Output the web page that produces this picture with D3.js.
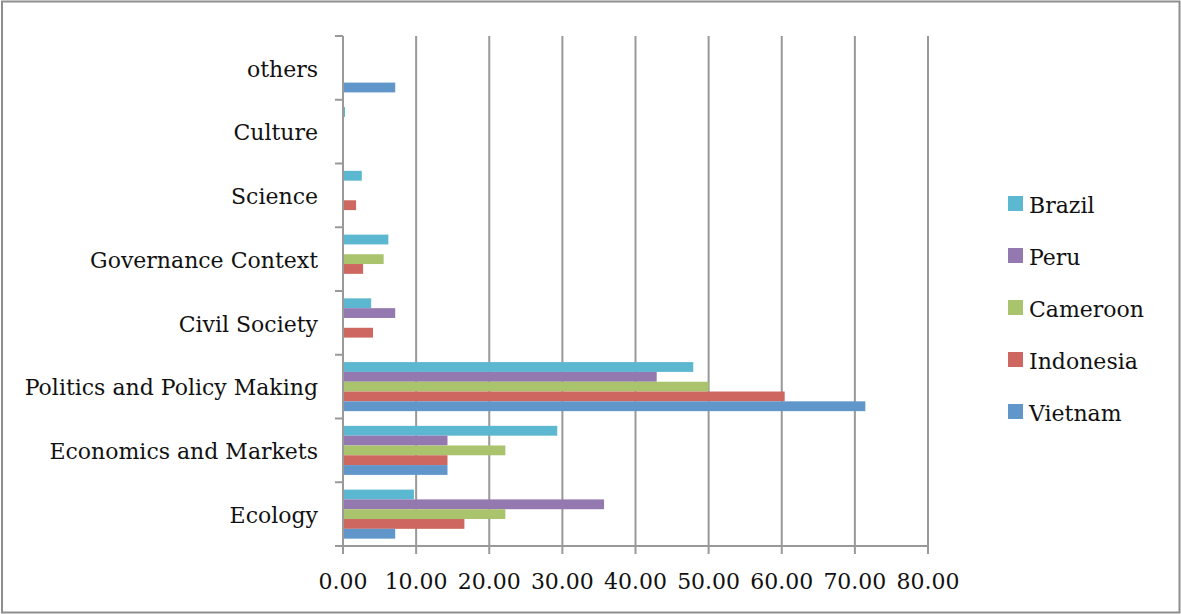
<!DOCTYPE html>
<html>
<head>
<meta charset="utf-8">
<script src="https://cdn.jsdelivr.net/npm/d3@7"></script>
<style>
  body { margin: 0; background: #fff; }
  text { font-family: "DejaVu Serif", "Liberation Serif", serif; fill: #111; }
</style>
</head>
<body>
<div id="chart"></div>
<script>
var width = 1181;
var height = 614;

// categories top to bottom
var categories = ["others", "Culture", "Science", "Governance Context", "Civil Society",
                  "Politics and Policy Making", "Economics and Markets", "Ecology"];
// series top to bottom inside a group
var series = ["Brazil", "Peru", "Cameroon", "Indonesia", "Vietnam"];
var colors = ["#5bb8d0", "#9479b0", "#aac46d", "#cd6760", "#6196ca"];

// values per series, same order as categories
var brazil    = [0, 0.28, 2.57, 6.2, 3.85, 47.9, 29.3, 9.7];
var peru      = [0, 0, 0, 0, 7.14, 42.9, 14.29, 35.7];
var cameroon  = [0, 0, 0, 5.56, 0, 50.0, 22.2, 22.2];
var indonesia = [0, 0, 1.79, 2.75, 4.1, 60.4, 14.29, 16.6];
var vietnam   = [7.14, 0, 0, 0, 0, 71.43, 14.29, 7.14];
var xTicks = [0, 10, 20, 30, 40, 50, 60, 70, 80];

var values = [brazil, peru, cameroon, indonesia, vietnam];

var margin = {left: 343, right: 253, top: 36, bottom: 68};
var fontSize = 22;

var svg = d3.select('#chart').append('svg')
    .attr('width', width).attr('height', height);

// outer border
svg.append('rect')
    .attr('x', 2).attr('y', 1.5)
    .attr('width', width - 3.5).attr('height', height - 3)
    .attr('fill', 'none').attr('stroke', '#8e8e8e').attr('stroke-width', 2);

var x = d3.scaleLinear()
    .domain([0, 80])
    .range([margin.left, width - margin.right]);

var y = d3.scaleBand()
    .domain(categories)
    .range([margin.top, height - margin.bottom])
    .paddingInner(0.2308)
    .paddingOuter(0.1154);

var ySub = d3.scaleBand()
    .domain(series)
    .range([0, y.bandwidth()]);

var step = y.step();
var yTop = margin.top, yBot = height - margin.bottom;

// vertical grid lines
svg.append('g').selectAll('line')
    .data(xTicks.slice(1))
    .enter().append('line')
    .attr('x1', function(d){ return x(d); })
    .attr('x2', function(d){ return x(d); })
    .attr('y1', yTop).attr('y2', yBot)
    .attr('stroke', '#999').attr('stroke-width', 2);

// bars
var rows = [];
series.forEach(function(s, i){
  categories.forEach(function(c, j){
    rows.push({s: s, c: c, v: values[i][j], col: colors[i]});
  });
});

svg.append('g').selectAll('rect')
    .data(rows.filter(function(d){ return d.v > 0; }))
    .enter().append('rect')
    .attr('x', x(0))
    .attr('y', function(d){ return y(d.c) + ySub(d.s); })
    .attr('width', function(d){ return x(d.v) - x(0); })
    .attr('height', ySub.bandwidth())
    .attr('fill', function(d){ return d.col; });

// y axis line + ticks
var yAxis = svg.append('g');
yAxis.append('line')
    .attr('x1', x(0)).attr('x2', x(0))
    .attr('y1', yTop).attr('y2', yBot)
    .attr('stroke', '#999').attr('stroke-width', 2);
yAxis.selectAll('line.tk')
    .data(d3.range(categories.length + 1))
    .enter().append('line').attr('class', 'tk')
    .attr('x1', x(0) - 8).attr('x2', x(0))
    .attr('y1', function(d){ return yTop + d * step; })
    .attr('y2', function(d){ return yTop + d * step; })
    .attr('stroke', '#999').attr('stroke-width', 2);
yAxis.selectAll('text')
    .data(categories)
    .enter().append('text')
    .attr('x', 318)
    .attr('y', function(d){ return y(d) + y.bandwidth() / 2 + 1; })
    .attr('dy', '0.35em')
    .attr('text-anchor', 'end')
    .attr('font-size', fontSize)
    .text(function(d){ return d; });

// x axis
var xAxis = svg.append('g');
xAxis.append('line')
    .attr('x1', x(0) - 8).attr('x2', x(80))
    .attr('y1', yBot).attr('y2', yBot)
    .attr('stroke', '#999').attr('stroke-width', 2);
xAxis.selectAll('line.tk')
    .data(xTicks)
    .enter().append('line').attr('class', 'tk')
    .attr('x1', function(d){ return x(d); })
    .attr('x2', function(d){ return x(d); })
    .attr('y1', yBot).attr('y2', yBot + 8)
    .attr('stroke', '#999').attr('stroke-width', 2);
xAxis.selectAll('text')
    .data(xTicks)
    .enter().append('text')
    .attr('x', function(d){ return x(d); })
    .attr('y', 581)
    .attr('dy', '0.35em')
    .attr('text-anchor', 'middle')
    .attr('font-size', fontSize)
    .text(function(d){ return d3.format('.2f')(d); });

// legend
var legend = svg.append('g').selectAll('g')
    .data(series)
    .enter().append('g')
    .attr('transform', function(d, i){ return 'translate(1008,' + (205 + i * 52) + ')'; });
legend.append('rect')
    .attr('x', 0).attr('y', -9)
    .attr('width', 15).attr('height', 15)
    .attr('fill', function(d, i){ return colors[i]; });
legend.append('text')
    .attr('x', 21).attr('y', 0)
    .attr('dy', '0.35em')
    .attr('font-size', fontSize)
    .text(function(d){ return d; });
</script>
</body>
</html>
